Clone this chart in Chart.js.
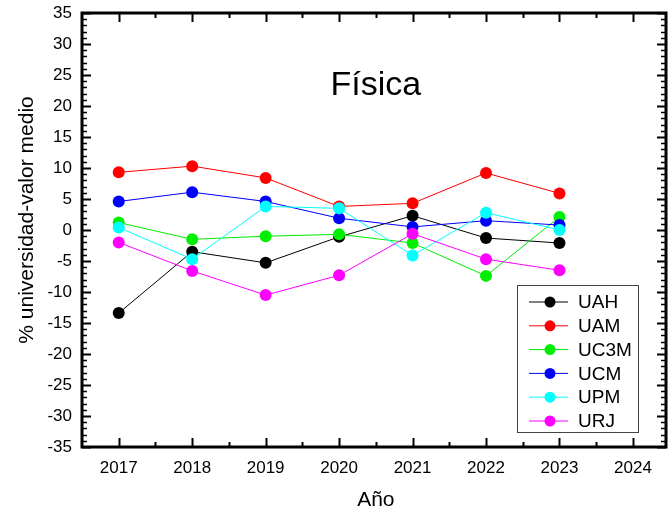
<!DOCTYPE html>
<html>
<head>
<meta charset="utf-8">
<script src="https://cdn.jsdelivr.net/npm/chart.js@4.4.1/dist/chart.umd.min.js"></script>
<style>
  html, body { margin: 0; padding: 0; background: #fff; }
  #wrap { width: 672px; height: 512px; }
</style>
</head>
<body>
<div id="wrap"><canvas id="c" width="672" height="512"></canvas></div>
<script>
// Data
const years = [2017, 2018, 2019, 2020, 2021, 2022, 2023];
const xTickLabels = [2017, 2018, 2019, 2020, 2021, 2022, 2023, 2024];
const uah  = [-13.4, -3.5, -5.3, -1.1, 2.3, -1.3, -2.1];
const uam  = [9.3, 10.3, 8.4, 3.8, 4.3, 9.2, 5.9];
const uc3m = [1.2, -1.5, -1.0, -0.7, -2.1, -7.4, 2.1];
const ucm  = [4.6, 6.1, 4.6, 1.9, 0.5, 1.5, 0.8];
const upm  = [0.4, -4.7, 3.8, 3.5, -4.1, 2.8, 0.0];
const urj  = [-2.0, -6.6, -10.5, -7.3, -0.6, -4.7, -6.5];
const seriesNames = ['UAH', 'UAM', 'UC3M', 'UCM', 'UPM', 'URJ'];
const seriesColors = ['#000000', '#ff0000', '#00ee00', '#0000ff', '#00ffff', '#ff00ff'];

const FONT = '"Liberation Sans", Arial, sans-serif';

function toPoints(vals) {
    return vals.map((v, i) => ({ x: years[i], y: v }));
}

const allSeries = [uah, uam, uc3m, ucm, upm, urj];
const datasets = allSeries.map((vals, i) => ({
    label: seriesNames[i],
    data: toPoints(vals),
    borderColor: seriesColors[i],
    backgroundColor: seriesColors[i],
    borderWidth: 1,
    pointRadius: 6,
    pointHoverRadius: 6,
    pointBorderWidth: 0,
    tension: 0,
    order: allSeries.length - i, // later series on top
}));

// white page background
const bgPlugin = {
    id: 'bg',
    beforeDraw(chart) {
        const ctx = chart.ctx;
        ctx.save();
        ctx.fillStyle = '#ffffff';
        ctx.fillRect(0, 0, chart.width, chart.height);
        ctx.restore();
    }
};

// frame, inward ticks, titles and legend
const framePlugin = {
    id: 'frame',
    afterDraw(chart) {
        const ctx = chart.ctx;
        const a = chart.chartArea;
        const xs = chart.scales.x;
        const ys = chart.scales.y;
        ctx.save();
        ctx.strokeStyle = '#000';

        // x ticks (bottom and top)
        for (let v = 2017; v <= 2024; v += 0.5) {
            const px = Math.round(xs.getPixelForValue(v)) + 0.5;
            const major = Number.isInteger(v);
            const len = major ? 9 : 5;
            ctx.lineWidth = 2;
            ctx.beginPath();
            ctx.moveTo(px, a.bottom);
            ctx.lineTo(px, a.bottom - len);
            ctx.moveTo(px, a.top);
            ctx.lineTo(px, a.top + len);
            ctx.stroke();
        }
        // y ticks (left and right)
        for (let v = -35; v <= 35; v += 1) {
            const py = Math.round(ys.getPixelForValue(v)) + 0.5;
            const major = v % 5 === 0;
            const len = major ? 9 : 5;
            ctx.lineWidth = major ? 2 : 1.5;
            ctx.beginPath();
            ctx.moveTo(a.left, py);
            ctx.lineTo(a.left + len, py);
            ctx.moveTo(a.right, py);
            ctx.lineTo(a.right - len, py);
            ctx.stroke();
        }

        // frame
        ctx.lineWidth = 3;
        ctx.strokeRect(a.left, a.top, a.right - a.left, a.bottom - a.top);

        // chart title
        ctx.fillStyle = '#000';
        ctx.textAlign = 'center';
        ctx.textBaseline = 'alphabetic';
        ctx.font = '34px ' + FONT;
        ctx.fillText('Física', xs.getPixelForValue(2020.5), 95);

        // axis titles
        ctx.font = '21px ' + FONT;
        ctx.fillText('Año', xs.getPixelForValue(2020.5), 506);
        ctx.save();
        ctx.translate(33, 220);
        ctx.rotate(-Math.PI / 2);
        ctx.fillText('% universidad-valor medio', 0, 0);
        ctx.restore();

        // legend
        const lx = 517, ly = 285, lw = 121, lh = 147;
        ctx.fillStyle = '#fff';
        ctx.fillRect(lx, ly, lw, lh);
        ctx.strokeStyle = '#444';
        ctx.lineWidth = 1;
        ctx.strokeRect(lx + 0.5, ly + 0.5, lw, lh);
        ctx.font = '19px ' + FONT;
        ctx.textAlign = 'left';
        ctx.textBaseline = 'middle';
        seriesNames.forEach((name, i) => {
            const cy = 302 + i * 23.8;
            ctx.strokeStyle = seriesColors[i];
            ctx.lineWidth = 1;
            ctx.beginPath();
            ctx.moveTo(529, cy);
            ctx.lineTo(568, cy);
            ctx.stroke();
            ctx.fillStyle = seriesColors[i];
            ctx.beginPath();
            ctx.arc(550, cy, 5.5, 0, Math.PI * 2);
            ctx.fill();
            ctx.fillStyle = '#000';
            ctx.fillText(name, 578, cy + 1);
        });
        ctx.restore();
    }
};

new Chart(document.getElementById('c'), {
    type: 'line',
    data: { datasets },
    options: {
        responsive: false,
        animation: false,
        events: [],
        layout: { padding: { left: 0, top: 13, right: 4, bottom: 0 } },
        plugins: {
            legend: { display: false },
            tooltip: { enabled: false },
            title: { display: false },
        },
        scales: {
            x: {
                type: 'linear',
                min: 2016.5,
                max: 2024.45,
                grid: { display: false, drawTicks: false },
                border: { display: false },
                afterBuildTicks(scale) {
                    scale.ticks = xTickLabels.map(v => ({ value: v }));
                },
                afterFit(scale) {
                    scale.height = 65;
                    scale.paddingLeft = 0;
                    scale.paddingRight = 0;
                },
                ticks: {
                    padding: 11,
                    color: '#000',
                    font: { family: FONT, size: 17 },
                    maxRotation: 0,
                    autoSkip: false,
                    callback: v => String(v),
                },
            },
            y: {
                min: -35,
                max: 35,
                grid: { display: false, drawTicks: false },
                border: { display: false },
                afterFit(scale) {
                    scale.width = 82;
                    scale.paddingTop = 0;
                    scale.paddingBottom = 0;
                },
                ticks: {
                    stepSize: 5,
                    padding: 10,
                    color: '#000',
                    font: { family: FONT, size: 17 },
                },
            },
        },
    },
    plugins: [bgPlugin, framePlugin],
});
</script>
</body>
</html>
